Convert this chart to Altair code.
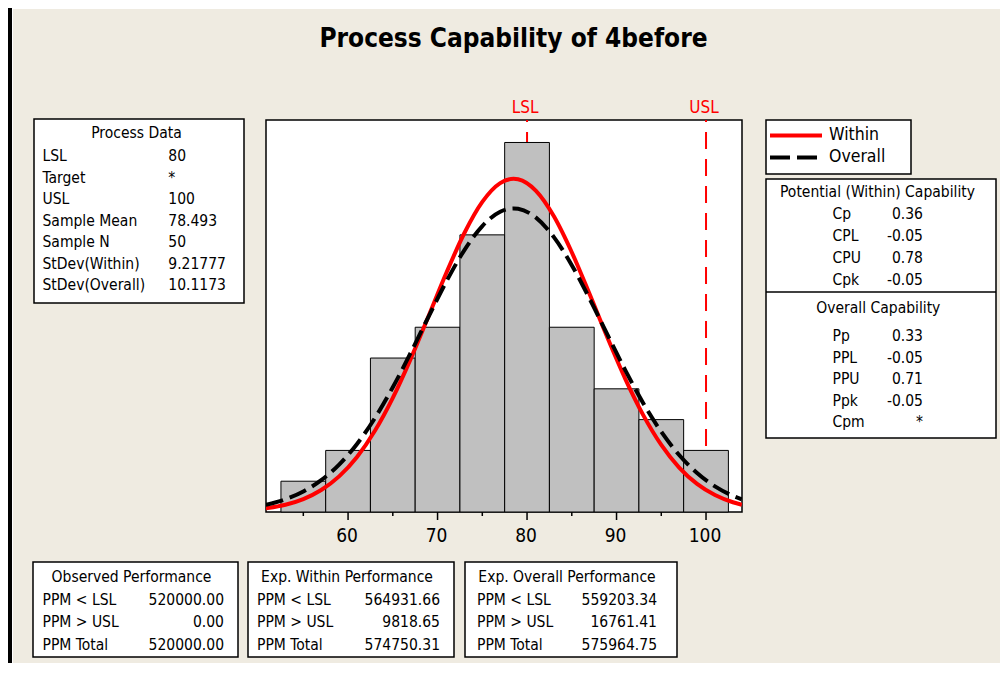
import altair as alt
import pandas as pd

# ---------------- data ----------------
bin_centers = [55, 60, 65, 70, 75, 80, 85, 90, 95, 100]
bin_counts = [1, 2, 5, 6, 9, 12, 6, 4, 3, 2]
BIN_WIDTH = 5

curve_x = [50.8, 53, 55, 57, 59, 61, 63, 65, 67, 69, 71, 73, 75, 77, 78.5,
           79, 81, 83, 85, 87, 89, 91, 93, 95, 97, 99, 101, 103, 104]
within_y = [0.119, 0.236, 0.420, 0.714, 1.157, 1.787, 2.636, 3.706, 4.974, 6.367,
            7.776, 9.060, 10.070, 10.680, 10.820, 10.804, 10.427, 9.602, 8.434,
            7.068, 5.650, 4.309, 3.137, 2.177, 1.442, 0.911, 0.549, 0.316, 0.235]
overall_y = [0.233, 0.412, 0.665, 1.032, 1.541, 2.211, 3.052, 4.051, 5.172, 6.348,
             7.493, 8.507, 9.287, 9.751, 9.858, 9.846, 9.560, 8.926, 8.016,
             6.922, 5.749, 4.592, 3.526, 2.605, 1.850, 1.264, 0.830, 0.524, 0.411]

spec_names = ["LSL", "USL"]
spec_values = [80, 100]

major_ticks = [60, 70, 80, 90, 100]
minor_ticks = [55, 65, 75, 85, 95]

process_labels = ["LSL", "Target", "USL", "Sample Mean", "Sample N",
                  "StDev(Within)", "StDev(Overall)"]
process_values = ["80", "*", "100", "78.493", "50", "9.21777", "10.1173"]

within_cap_labels = ["Cp", "CPL", "CPU", "Cpk"]
within_cap_values = ["0.36", "-0.05", "0.78", "-0.05"]
overall_cap_labels = ["Pp", "PPL", "PPU", "Ppk", "Cpm"]
overall_cap_values = ["0.33", "-0.05", "0.71", "-0.05", "*"]

perf_labels = ["PPM < LSL", "PPM > USL", "PPM Total"]
observed_values = ["520000.00", "0.00", "520000.00"]
exp_within_values = ["564931.66", "9818.65", "574750.31"]
exp_overall_values = ["559203.34", "16761.41", "575964.75"]

# ---------------- layout ----------------
FONT = "DejaVu Sans Condensed"
BG = "#efebe1"
PW, PH = 476, 392
X0, Y0 = 266, 120          # page position of plot area


def px(x):
    return x - X0


def py(y):
    return y - Y0


xscale = alt.Scale(domain=[50.83, 104.02], nice=False, zero=False)
yscale = alt.Scale(domain=[0, 12.73], nice=False, zero=False)
one = alt.Data(values=[{"k": 0}])


def box(x0, y0, x1, y1, fill="white", stroke="black", sw=1.5):
    kw = dict(fill=fill)
    if stroke:
        kw.update(stroke=stroke, strokeWidth=sw)
    return alt.Chart(one).mark_rect(**kw).encode(
        x=alt.value(px(x0)), x2=alt.value(px(x1)),
        y=alt.value(py(y0)), y2=alt.value(py(y1)))


def hline(x0, x1, y, color, width, dash=None):
    kw = dict(color=color, strokeWidth=width)
    if dash:
        kw["strokeDash"] = dash
    return alt.Chart(one).mark_rule(**kw).encode(
        x=alt.value(px(x0)), x2=alt.value(px(x1)), y=alt.value(py(y)))


def label(text, x, y, size=15.5, align="left", weight="normal", color="black",
          baseline="middle"):
    return alt.Chart(one).mark_text(
        text=text, align=align, baseline=baseline, font=FONT, fontSize=size,
        fontWeight=weight, color=color).encode(
        x=alt.value(px(x)), y=alt.value(py(y)))


def rows(texts, x, y0, step, align="left", size=15.5):
    df = pd.DataFrame({"t": texts, "row": list(range(len(texts)))})
    return alt.Chart(df).transform_calculate(
        ypix=f"{py(y0)} + datum.row * {step}").mark_text(
        align=align, baseline="middle", font=FONT, fontSize=size,
        color="black").encode(
        x=alt.value(px(x)),
        y=alt.Y("ypix:Q", scale=None, axis=None),
        text="t:N")


layers = []

# outer frame (left border of the window)
layers.append(box(8, 8, 12, 675, fill="black", stroke=None))
layers.append(box(12, 8, 13, 675, fill="white", stroke=None))
layers.append(box(12, 8, 1008, 9, fill="white", stroke=None))

# title
layers.append(label("Process Capability of 4before", 513.5, 46.5, size=26,
                    align="center", weight="bold", baseline="alphabetic"))

# Process Data box
layers.append(box(34, 119, 244, 303))
layers.append(label("Process Data", 136.5, 132.5, align="center"))
layers.append(rows(process_labels, 42.5, 156, 21.5))
layers.append(rows(process_values, 168.3, 156, 21.5))

# legend box
layers.append(box(766, 120, 911, 174))
layers.append(hline(770, 822, 135.5, "red", 4))
layers.append(hline(770, 822, 157.5, "black", 4, dash=[20, 7]))
layers.append(label("Within", 829, 134.5, size=17.5))
layers.append(label("Overall", 829, 156.5, size=17.5))

# capability box
layers.append(box(766, 179, 996, 438))
layers.append(hline(766, 996, 292, "black", 1.5))
layers.append(label("Potential (Within) Capability", 877.5, 191.5, align="center"))
layers.append(rows(within_cap_labels, 832.5, 214, 22))
layers.append(rows(within_cap_values, 923, 214, 22, align="right"))
layers.append(label("Overall Capability", 878.3, 307.5, align="center"))
layers.append(rows(overall_cap_labels, 832.5, 336, 21.6))
layers.append(rows(overall_cap_values, 923, 336, 21.6, align="right"))

# performance boxes
perf = [
    ("Observed Performance", observed_values, 33, 238, 42.5, 224),
    ("Exp. Within Performance", exp_within_values, 248, 454, 257, 440),
    ("Exp. Overall Performance", exp_overall_values, 465, 677, 477, 657),
]
for title, vals, bx0, bx1, lx, vx in perf:
    layers.append(box(bx0, 562, bx1, 657))
    layers.append(label(title, (bx0 + bx1) / 2 - 4, 577, align="center"))
    layers.append(rows(perf_labels, lx, 600, 22.3))
    layers.append(rows(vals, vx, 600, 22.3, align="right"))

# ---------------- histogram panel ----------------
spec_df = pd.DataFrame({"name": spec_names, "value": spec_values})
layers.append(alt.Chart(spec_df).mark_rule(
    color="red", strokeWidth=2, strokeDash=[17, 10], strokeDashOffset=15).encode(
    x=alt.X("value:Q", scale=xscale, axis=None),
    y=alt.value(0), y2=alt.value(PH)))

hist_df = pd.DataFrame({"center": bin_centers, "count": bin_counts})
layers.append(alt.Chart(hist_df).transform_calculate(
    lo=f"datum.center - {BIN_WIDTH / 2}", hi=f"datum.center + {BIN_WIDTH / 2}",
    base="0"
).mark_rect(fill="#c0c0c0", stroke="black", strokeWidth=1).encode(
    x=alt.X("lo:Q", scale=xscale, axis=None),
    x2="hi:Q",
    y=alt.Y("count:Q", scale=yscale, axis=None),
    y2="base:Q"))

for tvals, tlen in [(major_ticks, 8), (minor_ticks, 4)]:
    tdf = pd.DataFrame({"t": tvals})
    layers.append(alt.Chart(tdf).mark_rule(color="black", strokeWidth=1.5).encode(
        x=alt.X("t:Q", scale=xscale, axis=None),
        y=alt.value(PH), y2=alt.value(PH + tlen)))

# tick labels
tick_df = pd.DataFrame({"t": major_ticks})
layers.append(alt.Chart(tick_df).mark_text(
    font=FONT, fontSize=19, color="black", baseline="middle", dx=-1).encode(
    x=alt.X("t:Q", scale=xscale, axis=None),
    y=alt.value(py(535.5)),
    text=alt.Text("t:Q", format="d")))

curve_df = pd.DataFrame({"x": curve_x, "within": within_y, "overall": overall_y})
layers.append(alt.Chart(curve_df).mark_line(
    color="red", strokeWidth=4, interpolate="monotone", clip=True).encode(
    x=alt.X("x:Q", scale=xscale, axis=None),
    y=alt.Y("within:Q", scale=yscale, axis=None)))
layers.append(alt.Chart(curve_df).mark_line(
    color="black", strokeWidth=4, strokeDash=[18, 7], interpolate="monotone",
    clip=True).encode(
    x=alt.X("x:Q", scale=xscale, axis=None),
    y=alt.Y("overall:Q", scale=yscale, axis=None)))

layers.append(alt.Chart(spec_df).mark_text(
    color="red", font=FONT, fontSize=17, baseline="middle", dx=-2).encode(
    x=alt.X("value:Q", scale=xscale, axis=None),
    y=alt.value(py(108)), text="name:N"))

# total size 992 x 655 so the page does not overflow the 1008x675 window
chart = alt.layer(*layers).properties(
    width=PW, height=PH,
    padding={"left": 258, "top": 112, "right": 258, "bottom": 151},
    autosize=alt.AutoSizeParams(type="none"),
    background=BG,
).configure_view(fill="white", stroke="black", strokeWidth=1.5)

chart.save("out.html", embed_options={"renderer": "svg", "actions": False})
